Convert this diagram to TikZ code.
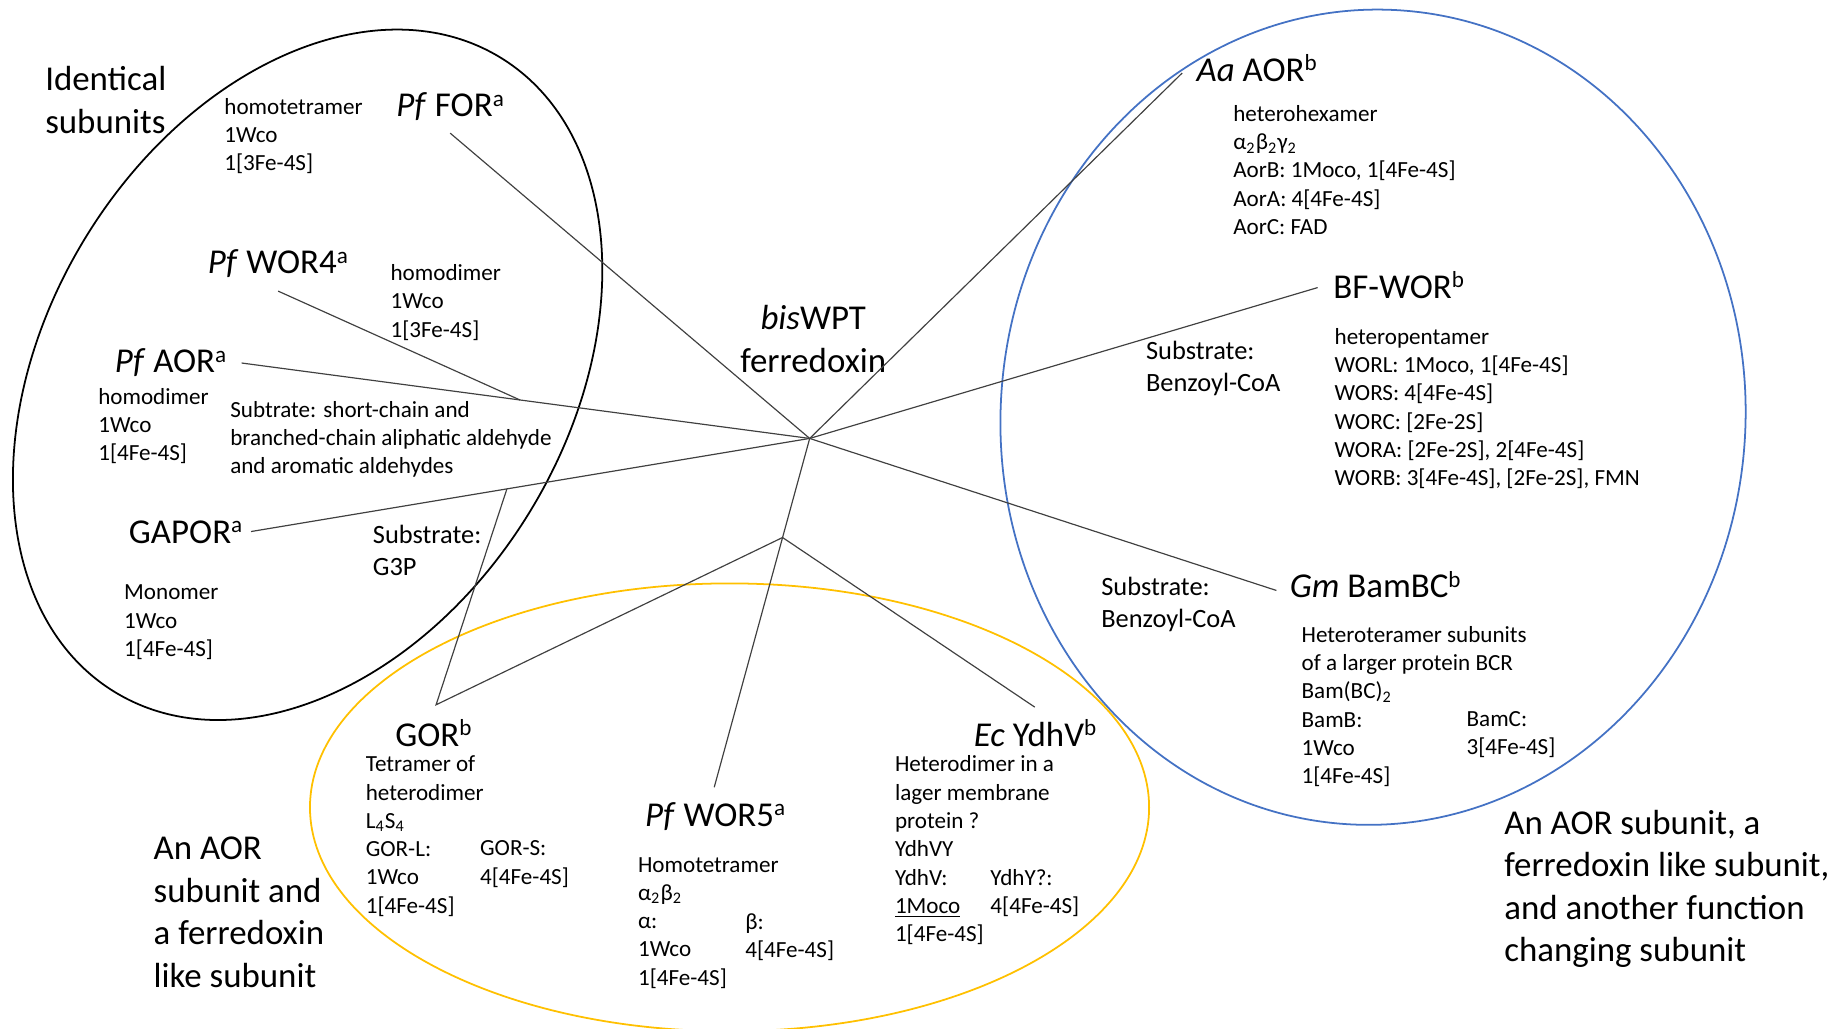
\documentclass[tikz,border=0pt]{standalone}
\usepackage{fontspec}
\setmainfont{Carlito}
\usetikzlibrary{calc}

\definecolor{ovalblue}{HTML}{4472C4}
\definecolor{ovalgold}{HTML}{FFC000}

\newcommand{\bodyfont}{\fontsize{9.8}{12}\selectfont}
\newcommand{\bigfont}{\fontsize{14.8}{18}\selectfont}
\newcommand{\subfont}{\fontsize{11.2}{13.8}\selectfont}
\newcommand{\supnote}[1]{\raisebox{4.4pt}{\fontsize{9.8}{10}\selectfont #1}}

\begin{document}
\begin{tikzpicture}[
    x=0.5pt, y=-0.5pt,
    link/.style={draw=black!75, line width=0.5pt},
    oval/.style={line width=0.75pt},
    info/.style={align=left, anchor=north west, inner sep=0pt, font=\bodyfont},
    title/.style={anchor=base west, inner sep=0pt, font=\bigfont},
    substrate/.style={align=left, anchor=north west, inner sep=0pt, font=\subfont},
    group/.style={align=left, anchor=north west, inner sep=0pt, font=\bigfont},
    ]
    \useasboundingbox (0,0) rectangle (1568,873);

    % the three families
    \coordinate (blackC) at (261,318);
    \coordinate (blueC) at (1165,354);
    \coordinate (goldC) at (619,685);
    \draw[oval, shift={(blackC)}, rotate=58.8] (0,0) ellipse (315 and 221.5);
    \draw[oval, ovalblue, shift={(blueC)}, rotate=-4] (0,0) ellipse (316 and 346);
    \draw[oval, ovalgold] (goldC) ellipse (356 and 190);

    % identical subunits
    \node[group] (identical) at (38,56) {Identical\\subunits};
    \node[info] (forInfo) at (190,83) {homotetramer\\1Wco\\1[3Fe-4S]};
    \node[title] (for) at (336,99) {\textit{Pf} FOR\supnote{a}};
    \node[title] (wor4) at (176,232) {\textit{Pf} WOR4\supnote{a}};
    \node[info] (wor4Info) at (331,224) {homodimer\\1Wco\\1[3Fe-4S]};
    \node[title] (aor) at (97,316) {\textit{Pf} AOR\supnote{a}};
    \node[info] (aorInfo) at (83,329) {homodimer\\1Wco\\1[4Fe-4S]};
    \node[info] (aorSub) at (195,340) {Subtrate: short-chain and\\branched-chain aliphatic aldehyde\\and aromatic aldehydes};
    \node[title] (gapor) at (109,461) {GAPOR\supnote{a}};
    \node[substrate] (gaporSub) at (316,445) {Substrate:\\G3P};
    \node[info] (gaporInfo) at (105,496) {Monomer\\1Wco\\1[4Fe-4S]};

    % centre
    \node[group, align=center, anchor=north] (fdx) at (690,259) {\textit{bis}WPT\\ferredoxin};
    \coordinate (hub) at (687,372);

    % three kinds of subunits
    \node[title] (aa) at (1015,69) {\textit{Aa} AOR\supnote{b}};
    \node[info] (aaInfo) at (1046,89) {heterohexamer\\α\textsubscript{2}β\textsubscript{2}γ\textsubscript{2}\\AorB: 1Moco, 1[4Fe-4S]\\AorA: 4[4Fe-4S]\\AorC: FAD};
    \node[title] (bf) at (1131,253) {BF-WOR\supnote{b}};
    \node[substrate] (bfSub) at (972,289) {Substrate:\\Benzoyl-CoA};
    \node[info] (bfInfo) at (1132,278) {heteropentamer\\WORL: 1Moco, 1[4Fe-4S]\\WORS: 4[4Fe-4S]\\WORC: [2Fe-2S]\\WORA: [2Fe-2S], 2[4Fe-4S]\\WORB: 3[4Fe-4S], [2Fe-2S], FMN};
    \node[title] (bam) at (1094,507) {\textit{Gm} BamBC\supnote{b}};
    \node[substrate] (bamSub) at (934,489) {Substrate:\\Benzoyl-CoA};
    \node[info] (bamInfo) at (1104,531) {Heteroteramer subunits\\of a larger protein BCR\\Bam(BC)\textsubscript{2}\\BamB:\\1Wco\\1[4Fe-4S]};
    \node[info] (bamC) at (1244,603) {BamC:\\3[4Fe-4S]};
    \node[group] (threeSub) at (1276,687) {An AOR subunit, a\\ferredoxin like subunit,\\and another function\\changing subunit};

    % two kinds of subunits
    \node[title] (gor) at (335,633) {GOR\supnote{b}};
    \node[info] (gorInfo) at (310,641) {Tetramer of\\heterodimer\\L\textsubscript{4}S\textsubscript{4}\\GOR-L:\\1Wco\\1[4Fe-4S]};
    \node[info] (gorS) at (407,713) {GOR-S:\\4[4Fe-4S]};
    \node[group] (twoSub) at (130,710) {An AOR\\subunit and\\a ferredoxin\\like subunit};
    \node[title] (wor5) at (547,701) {\textit{Pf} WOR5\supnote{a}};
    \node[info] (wor5Info) at (541,727) {Homotetramer\\α\textsubscript{2}β\textsubscript{2}\\α:\\1Wco\\1[4Fe-4S]};
    \node[info] (wor5B) at (632,775) {β:\\4[4Fe-4S]};
    \node[title] (ydhv) at (826,633) {\textit{Ec} YdhV\supnote{b}};
    \node[info] (ydhvInfo) at (759,641) {Heterodimer in a\\lager membrane\\protein ?\\YdhVY\\YdhV:\\\underline{1Moco}\\1[4Fe-4S]};
    \node[info] (ydhy) at (840,737) {YdhY?:\\4[4Fe-4S]};

    % connector ends
    \coordinate (forEnd) at (382,113);
    \coordinate (wor4End) at (236,247);
    \coordinate (aorEnd) at (205,308);
    \coordinate (gaporEnd) at (213,451);
    \coordinate (gorEnd) at (370,598);
    \coordinate (wor5End) at (606,668);
    \coordinate (ydhvEnd) at (878,600);
    \coordinate (aaEnd) at (1003,62);
    \coordinate (bfEnd) at (1118,244);
    \coordinate (bamEnd) at (1083,501);
    % branch points
    \coordinate (wor4Join) at ($(aorEnd)!0.49!(hub)$);
    \coordinate (gorJoin) at ($(gaporEnd)!0.458!(hub)$);
    \coordinate (wor5Join) at ($(wor5End)!0.716!(hub)$);

    % tree
    \draw[link] (forEnd) -- (hub);
    \draw[link] (aorEnd) -- (hub);
    \draw[link] (wor4End) -- (wor4Join);
    \draw[link] (gaporEnd) -- (hub);
    \draw[link] (gorJoin) -- (gorEnd) -- (wor5Join);
    \draw[link] (wor5End) -- (hub);
    \draw[link] (wor5Join) -- (ydhvEnd);
    \draw[link] (aaEnd) -- (hub);
    \draw[link] (bfEnd) -- (hub);
    \draw[link] (bamEnd) -- (hub);
\end{tikzpicture}
\end{document}
